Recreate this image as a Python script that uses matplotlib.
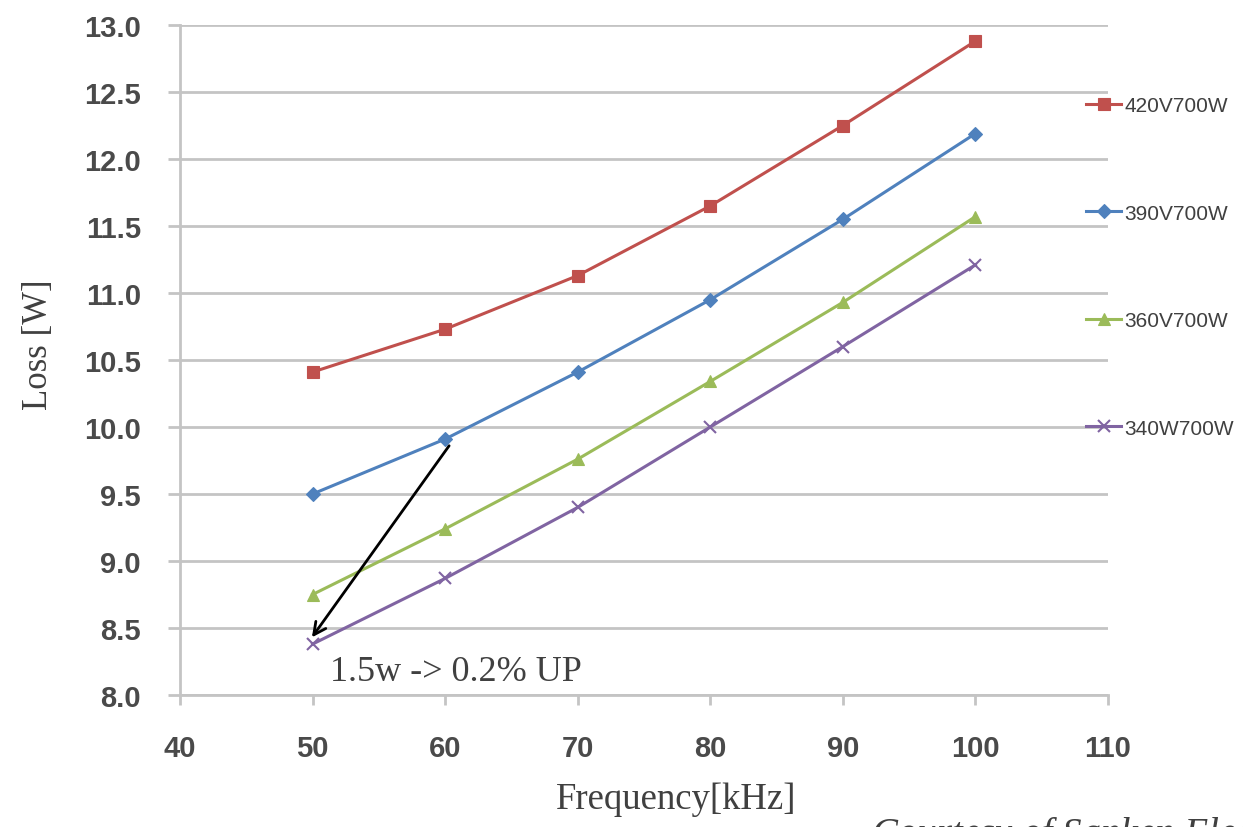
import matplotlib
matplotlib.use("Agg")
import matplotlib.pyplot as plt

freq = [50, 60, 70, 80, 90, 100]
loss_420 = [10.41, 10.73, 11.13, 11.65, 12.25, 12.88]
loss_390 = [9.50, 9.91, 10.41, 10.95, 11.55, 12.19]
loss_360 = [8.75, 9.24, 9.76, 10.34, 10.93, 11.57]
loss_340 = [8.38, 8.87, 9.40, 10.00, 10.60, 11.21]
labels = ["420V700W", "390V700W", "360V700W", "340W700W"]
colors = ["#c0504d", "#4f81bd", "#9bbb59", "#8064a2"]
markers = ["s", "D", "^", "x"]
msizes = [9, 7, 9, 9]
yticks = [8.0, 8.5, 9.0, 9.5, 10.0, 10.5, 11.0, 11.5, 12.0, 12.5, 13.0]
xticks = [40, 50, 60, 70, 80, 90, 100, 110]
arrow_start = (60.3, 9.86)
arrow_end = (49.95, 8.43)

W, H = 1243, 828
fig = plt.figure(figsize=(W / 100, H / 100), dpi=100)
ax = fig.add_axes([180 / W, 1 - 696 / H, (1108 - 180) / W, (696 - 26) / H])

grid_c = "#c4c4c4"
series = [loss_420, loss_390, loss_360, loss_340]
handles = []
for ys, lab, c, m, ms in zip(series, labels, colors, markers, msizes):
    ln, = ax.plot(freq, ys, color=c, lw=2.2, marker=m, markersize=ms,
                  markeredgewidth=1.5 if m == "x" else 0.8,
                  markeredgecolor=c, label=lab, zorder=3)
    handles.append(ln)

ax.set_xlim(40, 110)
ax.set_ylim(8.0, 13.0)
ax.set_yticks(yticks)
ax.set_yticklabels([f"{v:.1f}" for v in yticks])
ax.set_xticks(xticks)
ax.yaxis.grid(True, color=grid_c, lw=2.0, zorder=0)
ax.set_axisbelow(True)
for s in ["top", "right"]:
    ax.spines[s].set_visible(False)
for s in ["left", "bottom"]:
    ax.spines[s].set_color(grid_c)
    ax.spines[s].set_linewidth(2.0)

tick_font = dict(family="Liberation Sans", weight="bold", size=21)
ax.tick_params(axis="y", length=9, width=2.0, color=grid_c, pad=19,
               labelcolor="#4a4a4a")
ax.tick_params(axis="x", length=7, width=2.0, color=grid_c, pad=21,
               labelcolor="#4a4a4a")
for lbl in ax.get_xticklabels() + ax.get_yticklabels():
    lbl.set_fontproperties(matplotlib.font_manager.FontProperties(**tick_font))

serif = "Liberation Serif"
fig.text(38 / W, 1 - 345 / H, "Loss [W]", rotation=90, ha="center", va="center",
         family=serif, size=25, color="#404040")
fig.text(676 / W, 1 - 800 / H, "Frequency[kHz]", ha="center", va="center",
         family=serif, size=26.5, color="#404040")
ax.text(51.3, 8.11, "1.5w -> 0.2% UP", family=serif, size=26, color="#404040",
        ha="left", va="baseline", zorder=5)
fig.text(872 / W, 1 - 817 / H, "Courtesy of Sanken Electric", ha="left", va="top",
         family=serif, style="italic", size=28, color="#404040")

ax.annotate("", xy=arrow_end, xytext=arrow_start,
            arrowprops=dict(arrowstyle="->", color="black", lw=2.0,
                            mutation_scale=22, shrinkA=0, shrinkB=0), zorder=6)

leg = fig.legend(handles=handles, loc="upper left",
                 bbox_to_anchor=(1086 / W, 1 - 97 / H),
                 frameon=False, fontsize=15, handlelength=1.7,
                 handletextpad=0.15, labelspacing=4.25, borderpad=0,
                 borderaxespad=0)
for t in leg.get_texts():
    t.set_color("#404040")
    t.set_family("Liberation Sans")

fig.savefig("out.png", dpi=100)
